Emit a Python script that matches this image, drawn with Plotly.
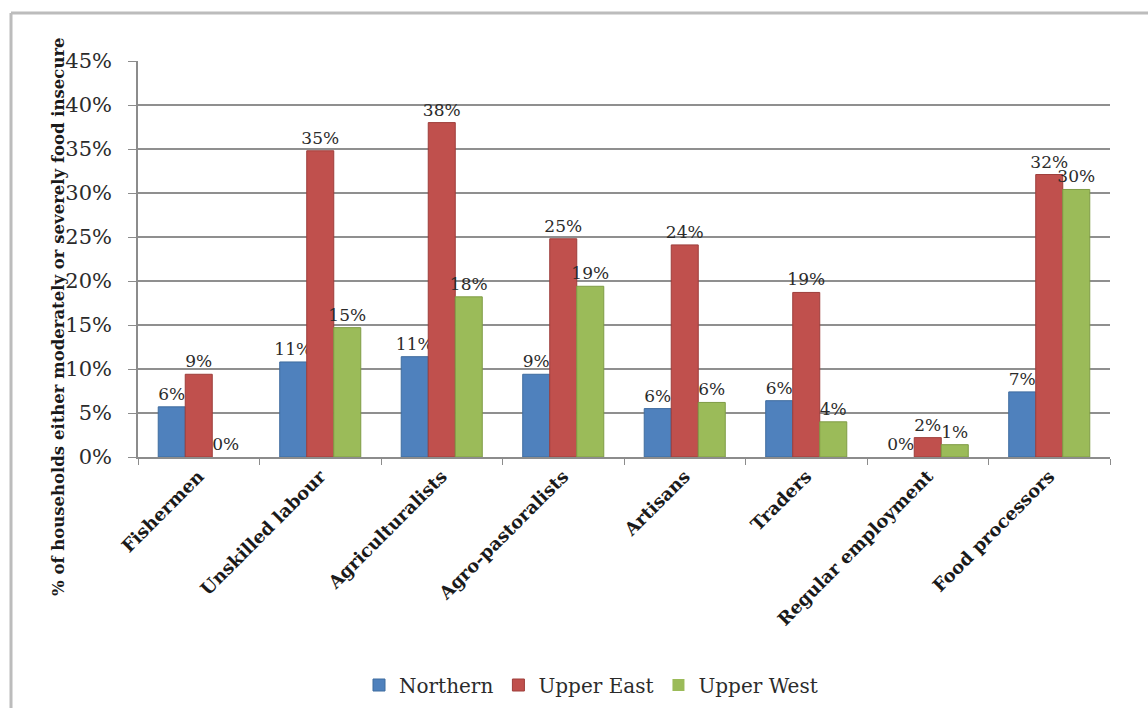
import plotly.graph_objects as go

# Food insecurity by livelihood group and region (% of households)
categories = ["Fishermen", "Unskilled labour", "Agriculturalists", "Agro-pastoralists",
              "Artisans", "Traders", "Regular employment", "Food processors"]
northern = [5.7, 10.8, 11.4, 9.4, 5.5, 6.4, 0.0, 7.4]
upper_east = [9.4, 34.8, 38.0, 24.8, 24.1, 18.7, 2.2, 32.1]
upper_west = [0.0, 14.7, 18.2, 19.4, 6.2, 4.0, 1.4, 30.4]
y_ticks = [0, 5, 10, 15, 20, 25, 30, 35, 40, 45]

series = [
    ("Northern", northern, "#4F81BD", "#3f6c9f"),
    ("Upper East", upper_east, "#C0504D", "#9e3e3b"),
    ("Upper West", upper_west, "#9BBB59", "#7f9c45"),
]

SERIF = "DejaVu Serif"
W, H = 1148, 708
L, R, T, B = 138, 38, 61, 251
PW, PH = W - L - R, H - T - B


def px_x(p):
    return (p - L) / PW


def px_y(p):
    return (H - B - p) / PH


fig = go.Figure()
for name, vals, col, edge in series:
    fig.add_trace(go.Bar(
        name=name, x=categories, y=vals,
        # no outline on empty bars so nothing is drawn at zero
        marker=dict(color=col, line=dict(color=edge, width=[1 if v > 0 else 0 for v in vals])),
        texttemplate="%{y:.0f}%", textposition="outside",
        constraintext="none", cliponaxis=False,
        textfont=dict(family=SERIF, size=17, color="#2b2b2b"),
    ))

fig.update_layout(
    width=W, height=H,
    margin=dict(l=L, r=R, t=T, b=B, autoexpand=False),
    paper_bgcolor="white", plot_bgcolor="white",
    barmode="group", bargap=0.333, bargroupgap=0,
    showlegend=True,
    legend=dict(orientation="h", x=px_x(591), y=px_y(685), xanchor="center", yanchor="middle",
                font=dict(family=SERIF, size=20, color="#2b2b2b"),
                itemwidth=30, traceorder="normal"),
    xaxis=dict(
        tickangle=-45, tickson="boundaries", ticks="outside", ticklen=6,
        tickcolor="#8c8c8c", showline=True, linecolor="#8c8c8c", linewidth=1.5,
        tickfont=dict(family=SERIF, size=18, color="#1a1a1a", weight="bold"),
        showgrid=False,
    ),
    yaxis=dict(
        range=[0, 45], tickvals=y_ticks, ticktext=[f"{v}%" for v in y_ticks],
        ticks="outside", ticklen=8, tickcolor="#8c8c8c", ticklabelstandoff=12,
        showline=True, linecolor="#8c8c8c", linewidth=1.5,
        showgrid=True, gridcolor="#8f8f8f", gridwidth=1.5, zeroline=False,
        tickfont=dict(family=SERIF, size=21, color="#2b2b2b"),
    ),
    annotations=[dict(
        text="<b>% of households either moderately or severely food insecure</b>",
        textangle=-90, xref="paper", yref="paper",
        x=px_x(58), y=px_y(317), xanchor="center", yanchor="middle",
        showarrow=False, font=dict(family=SERIF, size=16.5, color="#1a1a1a"),
    )],
    shapes=[
        # chart frame (top and left edges)
        dict(type="line", xref="paper", yref="paper",
             x0=px_x(11), x1=px_x(1160), y0=px_y(13), y1=px_y(13),
             line=dict(color="#bcbcbc", width=3)),
        dict(type="line", xref="paper", yref="paper",
             x0=px_x(11), x1=px_x(11), y0=px_y(13), y1=px_y(720),
             line=dict(color="#bcbcbc", width=3)),
    ],
)

fig.write_html("out.html")
